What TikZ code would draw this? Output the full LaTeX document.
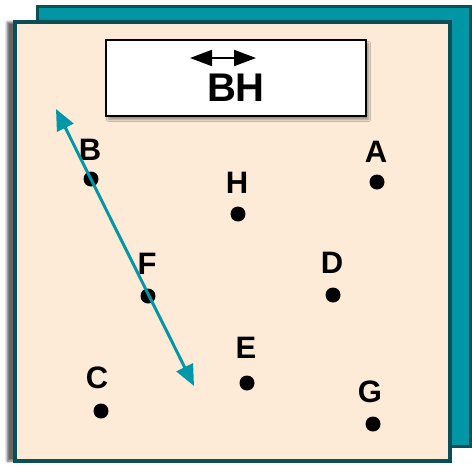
\documentclass[tikz,border=0pt]{standalone}
\usepackage{fontspec}
\setmainfont{Liberation Sans}
\usetikzlibrary{arrows.meta,shadows.blur}
\definecolor{tealfill}{RGB}{0,150,166}
\definecolor{tealdark}{RGB}{10,78,86}
\definecolor{peach}{RGB}{253,235,215}
\definecolor{lineteal}{RGB}{0,152,168}
\tikzset{
  x=1pt,y=-1pt,
  dotpt/.style={circle,fill=black,inner sep=0pt,minimum size=15pt},
  ptlabel/.style={font=\fontsize{31}{31}\selectfont\bfseries,inner sep=0pt},
  tealarrow/.style={draw=lineteal,line width=3pt,{Triangle[length=21pt,width=18pt]}-{Triangle[length=21pt,width=18pt]}},
  blackarrow/.style={draw=black,line width=2pt,{Triangle[length=22pt,width=16pt]}-{Triangle[length=22pt,width=16pt]}}
}
\begin{document}
\begin{tikzpicture}
\useasboundingbox (0,0) rectangle (472,464);
% back square
\draw[fill=tealfill,draw=tealdark,line width=3pt] (37,6) rectangle (470,446);
% front square
\draw[fill=peach,draw=tealdark,line width=4.5pt,blur shadow={shadow xshift=-8pt,shadow yshift=0pt,shadow blur steps=8,shadow opacity=60}] (15,22) rectangle (450,461);
% title box
\node[draw=black,line width=2pt,fill=white,minimum width=260pt,minimum height=76pt,inner sep=0pt,
      blur shadow={shadow xshift=3pt,shadow yshift=-4pt,shadow blur steps=6,shadow opacity=40}] (box) at (235.5,77.5) {};
\node[font=\fontsize{40}{40}\selectfont\bfseries,inner sep=0pt,anchor=base] (bh) at (236,101) {BH};
\coordinate (a1) at (190,58);
\coordinate (a2) at (256,58);
\draw[blackarrow] (a1) -- (a2);
% points
\node[dotpt] (B) at (91,179) {};
\node[dotpt] (A) at (377,182) {};
\node[dotpt] (H) at (238,214) {};
\node[dotpt] (F) at (148,296) {};
\node[dotpt] (D) at (333,295) {};
\node[dotpt] (E) at (247,383) {};
\node[dotpt] (C) at (101,411) {};
\node[dotpt] (G) at (373,424) {};
\node[ptlabel] (lB) at (90,150) {B};
\node[ptlabel] (lA) at (376,152) {A};
\node[ptlabel] (lH) at (237,183) {H};
\node[ptlabel] (lF) at (147,264) {F};
\node[ptlabel] (lD) at (332,263) {D};
\node[ptlabel] (lE) at (246,348) {E};
\node[ptlabel] (lC) at (97,378) {C};
\node[ptlabel] (lG) at (370,392) {G};
% line through B and F
\coordinate (t1) at (56,109);
\coordinate (t2) at (194,386);
\draw[tealarrow] (t1) -- (t2);
\end{tikzpicture}
\end{document}
